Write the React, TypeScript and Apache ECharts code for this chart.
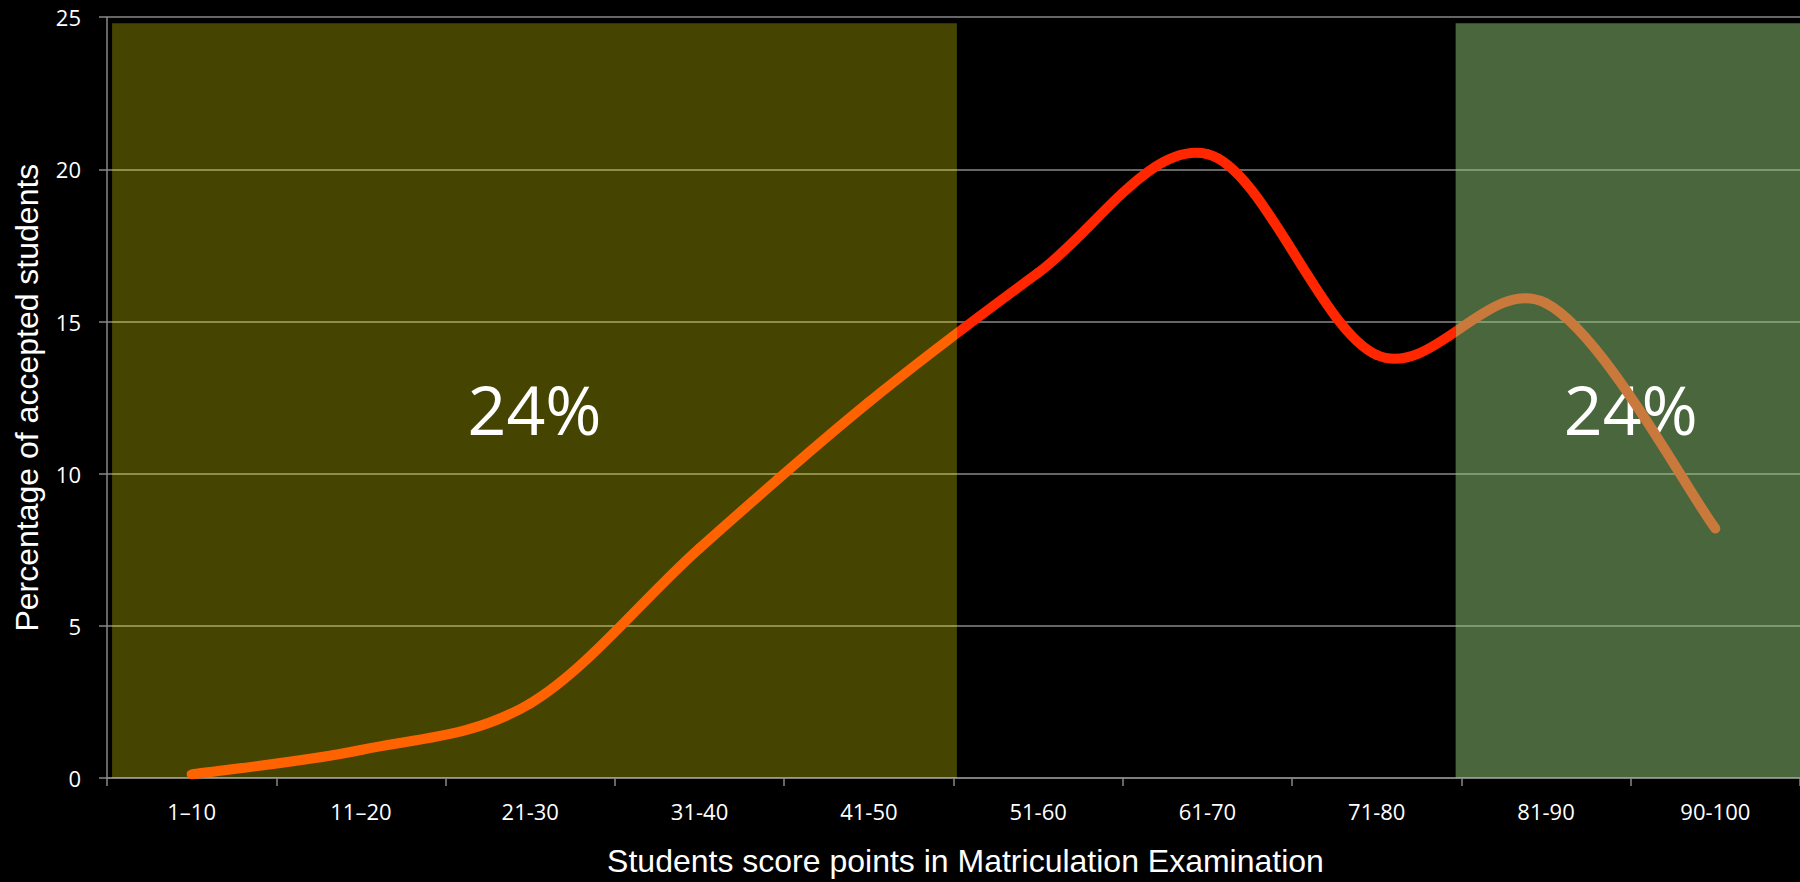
import React, { useEffect, useRef } from "react";
import * as echarts from "echarts";

const categories = ["1–10", "11–20", "21-30", "31-40", "41-50", "51-60", "61-70", "71-80", "81-90", "90-100"];
const percentages = [0.12, 0.92, 2.45, 7.55, 12.35, 16.6, 20.5, 13.9, 15.6, 8.2];
const yTicks = { min: 0, max: 25, interval: 5 };
const bandLabels = ["24%", "24%"];
const lowBand = [0.03, 5.02];
const highBand = [7.966, 10];
const bandTop = 24.8;
const lineColors = ["#ff6200", "#ff2600", "#c8793b"];

export default function App() {
  const ref = useRef<HTMLDivElement>(null);
  useEffect(() => {
    if (!ref.current) return;
    const chart = echarts.init(ref.current, null, { renderer: "svg" });
    const gray = "#888888";
    const labelFont = "'Open Sans', sans-serif";
    const nameFont = "'Liberation Sans', Arial, sans-serif";
    const n = percentages.length;
    const points = percentages.map((v, i) => [i + 0.5, v]);

    const renderItem = (params: any, api: any) => {
      const i = params.dataIndex;
      if (i >= n - 1) return { type: "group", children: [] };
      const c = (k: number) => {
        const kk = Math.max(0, Math.min(n - 1, k));
        return api.coord(points[kk]);
      };
      const p0 = c(i - 1);
      const p1 = c(i);
      const p2 = c(i + 1);
      const p3 = c(i + 2);
      const xa = api.coord([0, 0])[0];
      const xb = api.coord([n, 0])[0];
      const s1 = lowBand[1] / n;
      const s2 = highBand[0] / n;
      const grad = new echarts.graphic.LinearGradient(
        xa,
        0,
        xb,
        0,
        [
          { offset: 0, color: lineColors[0] },
          { offset: s1, color: lineColors[0] },
          { offset: s1, color: lineColors[1] },
          { offset: s2, color: lineColors[1] },
          { offset: s2, color: lineColors[2] },
          { offset: 1, color: lineColors[2] },
        ],
        true
      );
      return {
        type: "bezierCurve",
        shape: {
          x1: p1[0],
          y1: p1[1],
          x2: p2[0],
          y2: p2[1],
          cpx1: p1[0] + (p2[0] - p0[0]) / 6,
          cpy1: p1[1] + (p2[1] - p0[1]) / 6,
          cpx2: p2[0] - (p3[0] - p1[0]) / 6,
          cpy2: p2[1] - (p3[1] - p1[1]) / 6,
        },
        style: { stroke: grad, fill: "none", lineWidth: 10, lineCap: "round" },
      };
    };

    chart.setOption({
      animation: false,
      backgroundColor: "#000000",
      grid: { left: 107, right: -3, top: 17.2, bottom: 101.4, containLabel: false },
      xAxis: [
        {
          type: "category",
          data: categories,
          boundaryGap: true,
          axisLine: { lineStyle: { color: gray, width: 1.5 } },
          axisTick: { show: true, length: 8, lineStyle: { color: gray, width: 1.5 } },
          axisLabel: { color: "#ffffff", fontSize: 22, fontFamily: labelFont, margin: 22 },
          splitLine: { show: false },
          name: "Students score points in Matriculation Examination",
          nameLocation: "middle",
          nameGap: 67,
          nameTextStyle: { color: "#ffffff", fontSize: 32, fontFamily: nameFont, padding: [0, 0, 0, 24] },
        },
        { type: "value", min: 0, max: categories.length, show: false },
      ],
      yAxis: {
        type: "value",
        min: yTicks.min,
        max: yTicks.max,
        interval: yTicks.interval,
        axisLine: { show: true, lineStyle: { color: gray, width: 1.5 } },
        axisTick: { show: true, length: 8, lineStyle: { color: gray, width: 1.5 } },
        axisLabel: { color: "#ffffff", fontSize: 22, fontFamily: labelFont, margin: 26 },
        splitLine: { show: true, lineStyle: { color: gray, width: 1.5 } },
        name: "Percentage of accepted students",
        nameLocation: "middle",
        nameGap: 64,
        nameTextStyle: { color: "#ffffff", fontSize: 32, fontFamily: nameFont },
      },
      series: [
        {
          type: "custom",
          xAxisIndex: 1,
          data: points,
          encode: { x: 0, y: 1 },
          renderItem,
          clip: false,
          z: 3,
          silent: true,
        },
        {
          type: "line",
          xAxisIndex: 1,
          data: [],
          silent: true,
          markArea: {
            silent: true,
            z: 1,
            data: [
              [
                {
                  xAxis: lowBand[0],
                  yAxis: 0,
                  itemStyle: { color: "rgba(255,250,0,0.27)" },
                  label: {
                    show: true,
                    position: "inside",
                    formatter: bandLabels[0],
                    color: "#ffffff",
                    fontSize: 68,
                    fontFamily: labelFont,
                    offset: [0, 8],
                  },
                },
                { xAxis: lowBand[1], yAxis: bandTop },
              ],
              [
                {
                  xAxis: highBand[0],
                  yAxis: 0,
                  itemStyle: { color: "rgba(148,204,120,0.5)" },
                  label: {
                    show: true,
                    position: "inside",
                    formatter: bandLabels[1],
                    color: "#ffffff",
                    fontSize: 68,
                    fontFamily: labelFont,
                    offset: [3, 8],
                  },
                },
                { xAxis: highBand[1], yAxis: bandTop },
              ],
            ],
          },
        },
      ],
    });
    return () => chart.dispose();
  }, []);
  return (
    <div
      ref={ref}
      style={{ position: "fixed", left: 0, top: 0, width: 1800, height: 882, background: "#000" }}
    />
  );
}
